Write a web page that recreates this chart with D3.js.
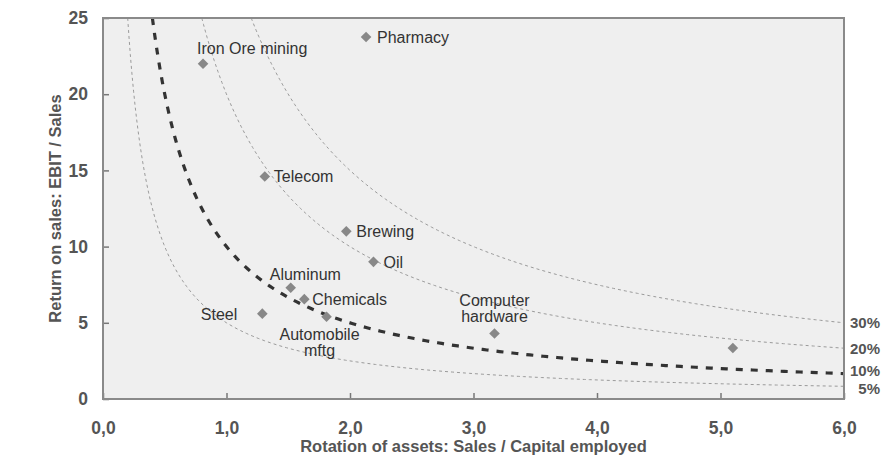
<!DOCTYPE html>
<html lang="en">
<head>
<meta charset="utf-8">
<title>Return on sales vs rotation of assets</title>
<script src="https://d3js.org/d3.v7.min.js"></script>
<style>
    body { margin: 0; background: #fff; }
    svg { display: block; font-family: "Liberation Sans", Arial, Helvetica, sans-serif; }
    .tick text { font-weight: bold; fill: #555; font-size: 17.5px; }
    .axis-title { font-weight: bold; fill: #555; font-size: 16.5px; }
    .pt-label { fill: #333; font-size: 16px; }
    .roce-label { font-weight: bold; fill: #555; font-size: 15px; }
</style>
</head>
<body>
<div id="chart"></div>
<script>
// industries
var industries = ["Iron Ore mining", "Pharmacy", "Telecom", "Brewing", "Oil", "Aluminum",
                  "Chemicals", "Steel", "Automobile\nmftg", "Computer\nhardware", ""];
var rotation = [0.81, 2.13, 1.31, 1.97, 2.19, 1.52, 1.63, 1.29, 1.81, 3.17, 5.10];
var returnOnSales = [22.0, 23.75, 14.6, 11.0, 9.0, 7.3, 6.55, 5.6, 5.4, 4.3, 3.35];

// iso ROCE curves (rotation * return = ROCE)
var roceLevels = [5, 10, 20, 30];
var roceLabels = ["5%", "10%", "20%", "30%"];

var xTicks = [0, 1, 2, 3, 4, 5, 6];
var yTicks = [0, 5, 10, 15, 20, 25];

var width = 882, height = 465;
var margin = {top: 18, right: 38, bottom: 66, left: 103};

// label placement per industry: dx, dy, anchor
var placement = {
    "Iron Ore mining": [-6, -10, "start"],
    "Pharmacy": [11, 6, "start"],
    "Telecom": [9, 6, "start"],
    "Brewing": [10, 6, "start"],
    "Oil": [10, 6, "start"],
    "Aluminum": [-21, -8, "start"],
    "Chemicals": [8, 6, "start"],
    "Steel": [-25, 6, "end"],
    "Automobile\nmftg": [-7, 23, "middle"],
    "Computer\nhardware": [0, -27, "middle"],
    "": [0, 0, "start"]
};

var svg = d3.select("#chart").append("svg")
    .attr("width", width)
    .attr("height", height);

var x = d3.scaleLinear().domain([0, 6]).range([margin.left, width - margin.right]);
var y = d3.scaleLinear().domain([0, 25]).range([height - margin.bottom, margin.top]);

svg.append("defs").append("clipPath").attr("id", "plot")
    .append("rect")
    .attr("x", x(0)).attr("y", y(25))
    .attr("width", x(6) - x(0)).attr("height", y(0) - y(25));

// plot background
svg.append("rect")
    .attr("x", x(0)).attr("y", y(25))
    .attr("width", x(6) - x(0)).attr("height", y(0) - y(25))
    .attr("fill", "#efefef");

// iso curves
var line = d3.line()
    .x(function(d) { return x(d[0]); })
    .y(function(d) { return y(d[1]); });

var curves = svg.append("g").attr("clip-path", "url(#plot)");
roceLevels.forEach(function(k) {
    var x0 = k / 25;
    var pts = d3.range(0, 201).map(function(i) {
        var xv = x0 + (6 - x0) * Math.pow(i / 200, 1.6);
        return [xv, k / xv];
    });
    curves.append("path")
        .attr("d", line(pts))
        .attr("fill", "none")
        .attr("stroke", k === 10 ? "#333" : "#9a9a9a")
        .attr("stroke-width", k === 10 ? 3.2 : 1)
        .attr("stroke-dasharray", k === 10 ? "7,8" : "3,3");
});

// axes (ticks pointing inward)
var xAxis = svg.append("g")
    .attr("transform", "translate(0," + y(0) + ")")
    .call(d3.axisTop(x).tickValues(xTicks).tickSize(6).tickFormat(function(d) { return d3.format(".1f")(d).replace(".", ","); }));
xAxis.selectAll(".tick text").attr("y", 29).attr("dy", "0.35em").style("text-anchor", "middle");

var yAxis = svg.append("g")
    .attr("transform", "translate(" + x(0) + ",0)")
    .call(d3.axisRight(y).tickValues(yTicks).tickSize(6).tickFormat(d3.format("d")));
yAxis.selectAll(".tick text").attr("x", -15).style("text-anchor", "end");

svg.selectAll(".domain").remove();
svg.selectAll(".tick line").attr("stroke", "#777").attr("stroke-width", 1.5);

// frame
svg.append("rect")
    .attr("x", x(0)).attr("y", y(25))
    .attr("width", x(6) - x(0)).attr("height", y(0) - y(25))
    .attr("fill", "none")
    .attr("stroke", "#8a8a8a")
    .attr("stroke-width", 2);

// axis titles
svg.append("text").attr("class", "axis-title")
    .attr("x", (x(0) + x(6)) / 2).attr("y", 452)
    .attr("text-anchor", "middle")
    .text("Rotation of assets: Sales / Capital employed");

svg.append("text").attr("class", "axis-title")
    .attr("transform", "translate(61," + ((y(0) + y(25)) / 2) + ") rotate(-90)")
    .attr("text-anchor", "middle")
    .text("Return on sales: EBIT / Sales");

// ROCE labels at the right end of each curve
var labelNudge = {5: 2, 10: -3, 20: 1, 30: 0};
roceLevels.forEach(function(k, i) {
    svg.append("text").attr("class", "roce-label")
        .attr("x", 880).attr("y", y(k / 6) + labelNudge[k])
        .attr("dy", "0.35em")
        .attr("text-anchor", "end")
        .text(roceLabels[i]);
});

// points
var sym = d3.symbol().type(d3.symbolDiamond2).size(72);
var pts = svg.append("g");
industries.forEach(function(name, i) {
    var px = x(rotation[i]), py = y(returnOnSales[i]);
    pts.append("path")
        .attr("d", sym())
        .attr("transform", "translate(" + px + "," + py + ")")
        .attr("fill", "#888");
    if (!name) return;
    var p = placement[name];
    var t = pts.append("text").attr("class", "pt-label")
        .attr("x", px + p[0]).attr("y", py + p[1])
        .attr("text-anchor", p[2]);
    name.split("\n").forEach(function(s, j) {
        t.append("tspan").attr("x", px + p[0]).attr("dy", j ? 16 : 0).text(s);
    });
});
</script>
</body>
</html>
